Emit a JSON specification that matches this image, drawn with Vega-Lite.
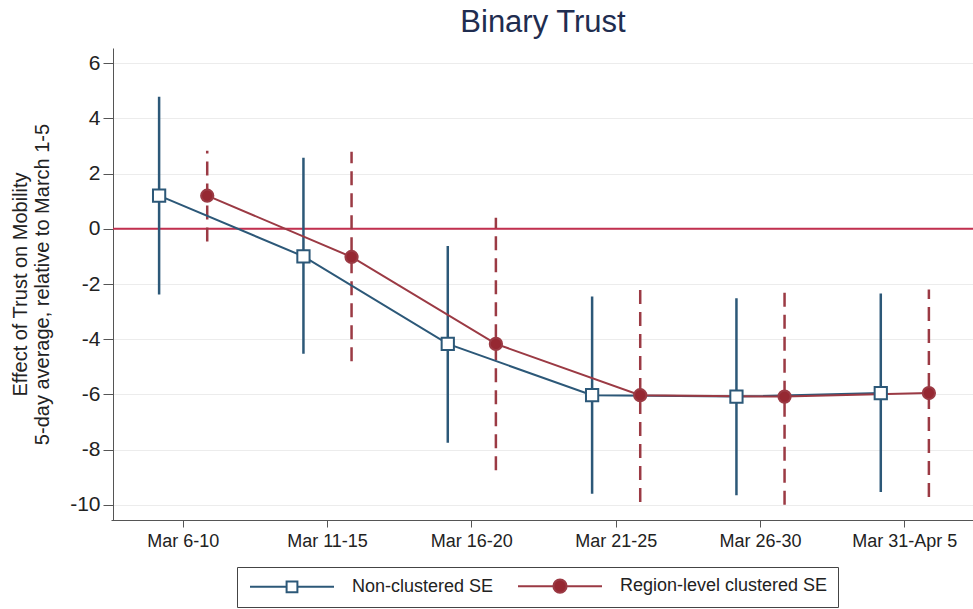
{
  "$schema": "https://vega.github.io/schema/vega-lite/v6.json",
  "width": 860,
  "height": 472,
  "autosize": {"type": "none"},
  "padding": {"left": 113, "top": 48, "right": 0, "bottom": 89},
  "background": "white",
  "config": {
    "font": "Liberation Sans",
    "view": {"stroke": null}
  },
  "title": {"text": "Binary Trust", "fontSize": 31, "font": "Liberation Sans", "fontWeight": "normal", "color": "#1f2d50", "anchor": "middle", "frame": "group", "baseline": "bottom", "offset": 9, "dy": 31},
  "data": {
    "values": [
      {"period": "Mar 6-10", "series": "Non-clustered SE", "est": 1.2, "lo": -2.38, "hi": 4.78},
      {"period": "Mar 11-15", "series": "Non-clustered SE", "est": -1.0, "lo": -4.53, "hi": 2.57},
      {"period": "Mar 16-20", "series": "Non-clustered SE", "est": -4.17, "lo": -7.75, "hi": -0.62},
      {"period": "Mar 21-25", "series": "Non-clustered SE", "est": -6.03, "lo": -9.6, "hi": -2.45},
      {"period": "Mar 26-30", "series": "Non-clustered SE", "est": -6.08, "lo": -9.65, "hi": -2.52},
      {"period": "Mar 31-Apr 5", "series": "Non-clustered SE", "est": -5.95, "lo": -9.54, "hi": -2.34},
      {"period": "Mar 6-10", "series": "Region-level clustered SE", "est": 1.2, "lo": -0.46, "hi": 2.83},
      {"period": "Mar 11-15", "series": "Region-level clustered SE", "est": -1.02, "lo": -4.8, "hi": 2.79},
      {"period": "Mar 16-20", "series": "Region-level clustered SE", "est": -4.17, "lo": -8.75, "hi": 0.4},
      {"period": "Mar 21-25", "series": "Region-level clustered SE", "est": -6.03, "lo": -9.9, "hi": -2.2},
      {"period": "Mar 26-30", "series": "Region-level clustered SE", "est": -6.08, "lo": -10.0, "hi": -2.2},
      {"period": "Mar 31-Apr 5", "series": "Region-level clustered SE", "est": -5.95, "lo": -9.72, "hi": -2.2}
    ]
  },
  "layer": [
    {
      "data": {"values": [{"z": 0}]},
      "mark": {"type": "rule", "color": "#c2304f", "strokeWidth": 2},
      "encoding": {
        "y": {"field": "z", "type": "quantitative",
          "scale": {"domain": [-10.55, 6.55], "nice": false, "zero": false},
          "axis": {"values": [-10, -8, -6, -4, -2, 0, 2, 4, 6], "labelExpr": "'' + datum.value", "labelFontSize": 21, "labelColor": "#222", "labelPadding": 3, "tickSize": 10, "tickColor": "#555", "domainColor": "#555", "grid": true, "gridColor": "#ececec", "gridWidth": 1,
            "title": ["Effect of Trust on Mobility", "5-day average, relative to March 1-5"], "titleFontSize": 20, "titleFontWeight": "normal", "titleColor": "#222", "titleX": -83, "titleY": 236}}
      }
    },
    {
      "mark": {"type": "rule", "strokeWidth": 2.5},
      "encoding": {
        "x": {"field": "period", "type": "nominal", "sort": ["Mar 6-10", "Mar 11-15", "Mar 16-20", "Mar 21-25", "Mar 26-30", "Mar 31-Apr 5"],
          "scale": {"range": [-2, 864], "paddingInner": 0, "paddingOuter": 0},
          "axis": {"title": null, "labelAngle": 0, "labelFontSize": 18, "labelColor": "#222", "labelPadding": 5, "tickSize": 7, "tickColor": "#555", "domainColor": "#555", "grid": false}},
        "xOffset": {"field": "series", "type": "nominal", "sort": ["Non-clustered SE", "Region-level clustered SE"], "scale": {"paddingOuter": 0.5, "paddingInner": 0}},
        "y": {"field": "lo", "type": "quantitative", "axis": {"title": ["Effect of Trust on Mobility", "5-day average, relative to March 1-5"]}},
        "y2": {"field": "hi"},
        "stroke": {"field": "series", "type": "nominal", "scale": {"domain": ["Region-level clustered SE", "Non-clustered SE"], "range": ["#9b3a44", "#2c5878"]}, "legend": null},
        "strokeDash": {"field": "series", "type": "nominal", "scale": {"domain": ["Region-level clustered SE", "Non-clustered SE"], "range": [[14, 8], [1, 0]]}, "legend": null}
      }
    },
    {
      "mark": {"type": "line", "strokeWidth": 2},
      "encoding": {
        "x": {"field": "period", "type": "nominal", "sort": ["Mar 6-10", "Mar 11-15", "Mar 16-20", "Mar 21-25", "Mar 26-30", "Mar 31-Apr 5"]},
        "xOffset": {"field": "series", "type": "nominal", "sort": ["Non-clustered SE", "Region-level clustered SE"]},
        "y": {"field": "est", "type": "quantitative", "axis": {"title": ["Effect of Trust on Mobility", "5-day average, relative to March 1-5"]}},
        "color": {"field": "series", "type": "nominal", "scale": {"domain": ["Region-level clustered SE", "Non-clustered SE"], "range": ["#9b3a44", "#2c5878"]}, "legend": null}
      }
    },
    {
      "mark": {"type": "point", "size": 150, "strokeWidth": 2, "opacity": 1},
      "encoding": {
        "x": {"field": "period", "type": "nominal", "sort": ["Mar 6-10", "Mar 11-15", "Mar 16-20", "Mar 21-25", "Mar 26-30", "Mar 31-Apr 5"]},
        "xOffset": {"field": "series", "type": "nominal", "sort": ["Non-clustered SE", "Region-level clustered SE"]},
        "y": {"field": "est", "type": "quantitative", "axis": {"title": ["Effect of Trust on Mobility", "5-day average, relative to March 1-5"]}},
        "shape": {"field": "series", "type": "nominal", "scale": {"domain": ["Region-level clustered SE", "Non-clustered SE"], "range": ["circle", "square"]}, "legend": null},
        "stroke": {"field": "series", "type": "nominal", "legend": null},
        "fill": {"field": "series", "type": "nominal", "scale": {"domain": ["Non-clustered SE", "Region-level clustered SE"], "range": ["white", "#962832"]},
          "legend": {"orient": "none", "legendX": 124, "legendY": 519, "direction": "horizontal", "title": null,
            "symbolSize": 144, "symbolStrokeWidth": 2, "symbolOpacity": 1, "labelFontSize": 18, "labelColor": "#222", "labelLimit": 400, "labelOffset": 87, "columnPadding": 20, "padding": 10,
            "strokeColor": "#444", "fillColor": "white",
            "symbolType": {"expr": "datum.value === 'Non-clustered SE' ? 'M-1,0H5.1M6.9,0H13M5.1,-0.9H6.9V0.9H5.1Z' : 'M-1,0H4.9M7.1,0H13M7.1,0A1.1,1.1,0,1,1,4.9,0A1.1,1.1,0,1,1,7.1,0Z'"},
            "symbolStrokeColor": {"expr": "datum.value === 'Non-clustered SE' ? '#2c5878' : '#9b3a44'"}}}
      }
    }
  ]
}
